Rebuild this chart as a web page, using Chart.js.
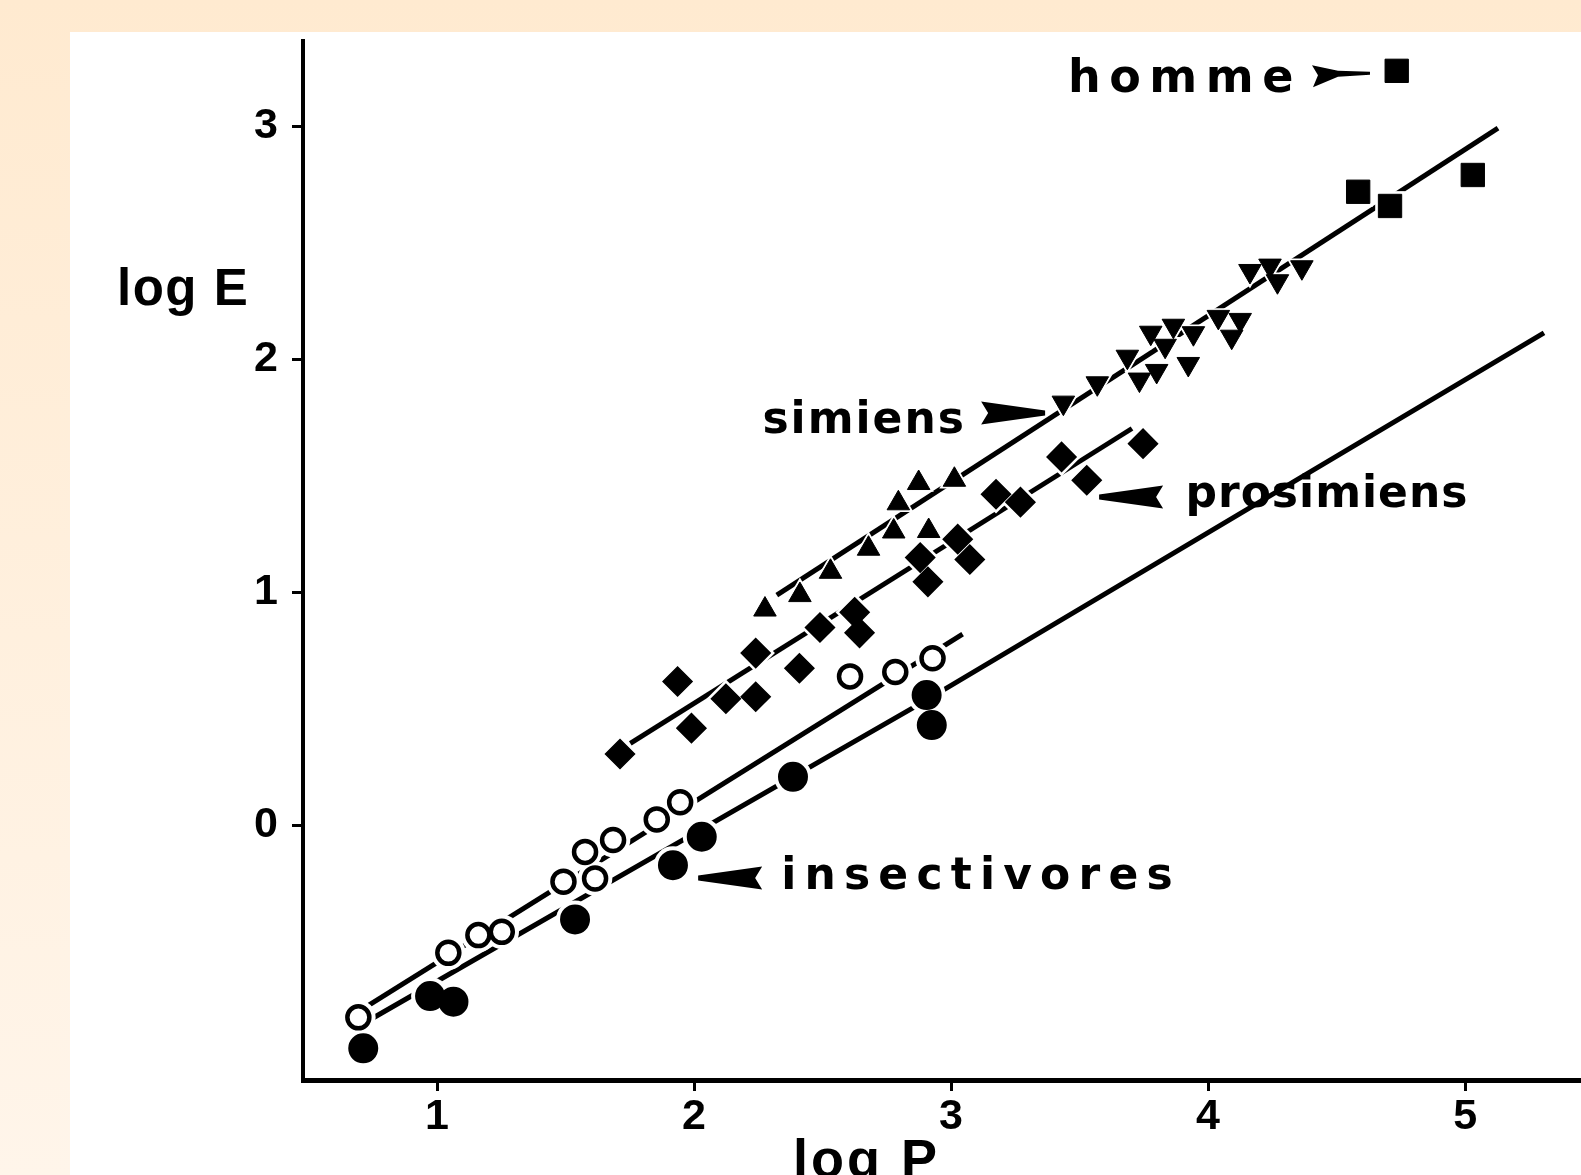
<!DOCTYPE html>
<html>
<head>
<meta charset="utf-8">
<script src="https://cdn.jsdelivr.net/npm/chart.js@4.4.1/dist/chart.umd.min.js"></script>
<style>
html,body{margin:0;padding:0;width:1581px;height:1175px;overflow:hidden;}
body{background:linear-gradient(to bottom,#ffead0,#fff5ea);position:relative;}
#panel{position:absolute;left:70px;top:32px;right:0;bottom:0;background:#ffffff;}
#c{position:absolute;left:0;top:0;}
</style>
</head>
<body>
<div id="panel"></div>
<canvas id="c" width="1581" height="1175"></canvas>
<script>
// ---- tick labels ----
const xTickValues = [1, 2, 3, 4, 5];
const yTickValues = [0, 1, 2, 3];

// ---- series values [log P, log E] ----
const insectivoresPleins = [[0.713,-0.958],[0.973,-0.734],[1.064,-0.758],[1.537,-0.405],[1.918,-0.172],[2.03,-0.05],[2.385,0.207],[2.905,0.558],[2.925,0.429]];
const insectivoresVides = [[0.694,-0.825],[1.044,-0.548],[1.161,-0.472],[1.252,-0.458],[1.492,-0.243],[1.576,-0.115],[1.615,-0.229],[1.685,-0.064],[1.855,0.024],[1.946,0.098],[2.607,0.638],[2.783,0.657],[2.928,0.716]];
const prosimiens = [[1.712,0.305],[1.936,0.616],[1.99,0.416],[2.124,0.542],[2.24,0.551],[2.24,0.738],[2.41,0.673],[2.49,0.848],[2.625,0.913],[2.644,0.825],[2.88,1.148],[2.91,1.044],[3.026,1.227],[3.073,1.14],[3.175,1.42],[3.27,1.386],[3.43,1.58],[3.528,1.48],[3.747,1.637]];
const simiensA = [[2.276,0.925],[2.412,0.987],[2.531,1.087],[2.679,1.186],[2.777,1.26],[2.913,1.262],[2.795,1.381],[2.874,1.468],[3.013,1.482]];
const simiensB = [[3.437,1.813],[3.569,1.896],[3.686,2.010],[3.733,1.912],[3.80,1.949],[3.777,2.113],[3.865,2.143],[3.833,2.057],[3.943,2.111],[3.923,1.979],[4.040,2.181],[4.125,2.168],[4.092,2.096],[4.163,2.378],[4.241,2.401],[4.270,2.334],[4.365,2.394]];
const hominoides = [[4.584,2.718],[4.708,2.657],[5.03,2.79],[4.734,3.237]];

// ---- fitted lines (end points) ----
const droiteInsectivoresVides = [[0.71,-0.79],[3.045,0.82]];
const droiteInsectivoresPleins = [[0.751,-0.828],[2.899,0.533],[5.307,2.112]];
const droiteProsimiens = [[1.752,0.351],[3.704,1.702]];
const droiteSimiens = [[2.322,0.987],[5.128,2.991]];

// ---- texts ----
const labelTexts = ['homme', 'simiens', 'prosimiens', 'insectivores'];
const axisTitleY = 'log E';
const axisTitleX = 'log P';

// ---- placement / style of annotations (kept apart from data) ----
const LABEL_FONT = '"DejaVu Sans", Verdana, sans-serif';
const TITLE_FONT = '"Liberation Sans", Arial, sans-serif';
const labelPlacement = [
  {x:3.455, y:3.147, size:46, spacing:8.5},
  {x:2.266, y:1.684, size:44, spacing:2},
  {x:3.912, y:1.366, size:44, spacing:1},
  {x:2.339, y:-0.276, size:44, spacing:8.2}
];
const titlePlacement = {
  y:{x:-0.245, y:2.232, size:51, spacing:1.5},
  x:{x:2.385, y:-1.511, size:54, spacing:3}
};
const wedge = [[0,-2.5],[-64,-11.5],[-57,0],[-64,11.5],[0,2.5]];
const hommeArrow = [[0,-1.5],[-32,-2.5],[-58,-8],[-52,2],[-57,14],[-32,3.5],[0,1.5]];
const arrowPlacement = [
  {x:4.630, y:3.227, dir:1, shape:hommeArrow},
  {x:3.366, y:1.768, dir:1, shape:wedge},
  {x:3.576, y:1.408, dir:-1, shape:wedge},
  {x:2.016, y:-0.227, dir:-1, shape:wedge}
];

const pts = a => a.map(([x,y]) => ({x, y}));

function markers(data, style, r, fill, bw, rot) {
  return [
    {type:'scatter', data:pts(data), pointStyle:style, pointRadius:r, pointHoverRadius:r,
     pointRotation:rot||0, backgroundColor:fill, borderColor:'#000', borderWidth:bw, order:1},
    {type:'scatter', data:pts(data), pointStyle:style, pointRadius:r+bw/2+4, pointHoverRadius:r+bw/2+4,
     pointRotation:rot||0, backgroundColor:'#fff', borderColor:'#fff', borderWidth:0, order:2}
  ];
}
function line(data) {
  return {type:'line', data:pts(data), showLine:true, pointRadius:0, pointHoverRadius:0,
          borderColor:'#000', borderWidth:5, fill:false, tension:0, order:3};
}

const datasets = [
  ...markers(insectivoresPleins, 'circle', 14, '#000', 2),
  ...markers(insectivoresVides, 'circle', 11, '#fff', 4.5),
  ...markers(prosimiens, 'rectRot', 14.5, '#000', 1.5),
  ...markers(simiensA, 'triangle', 13, '#000', 1),
  ...markers(simiensB, 'triangle', 13, '#000', 1, 180),
  ...markers(hominoides, 'rect', 16.5, '#000', 1),
  line(droiteInsectivoresVides),
  line(droiteInsectivoresPleins),
  line(droiteProsimiens),
  line(droiteSimiens)
];

const annotations = {
  id:'annotations',
  afterDraw(chart) {
    const {ctx} = chart;
    const sx = chart.scales.x, sy = chart.scales.y;
    ctx.save();
    ctx.fillStyle = '#000';
    ctx.textAlign = 'left';
    ctx.textBaseline = 'alphabetic';
    const drawText = (t, p, fam) => {
      ctx.font = 'bold ' + p.size + 'px ' + fam;
      ctx.letterSpacing = p.spacing + 'px';
      ctx.fillText(t, sx.getPixelForValue(p.x), sy.getPixelForValue(p.y));
    };
    labelTexts.forEach((t, i) => drawText(t, labelPlacement[i], LABEL_FONT));
    drawText(axisTitleY, titlePlacement.y, TITLE_FONT);
    drawText(axisTitleX, titlePlacement.x, TITLE_FONT);
    ctx.letterSpacing = '0px';
    arrowPlacement.forEach(a => {
      const px = sx.getPixelForValue(a.x), py = sy.getPixelForValue(a.y);
      ctx.beginPath();
      a.shape.forEach(([dx, dy], k) => {
        const X = px + dx * a.dir, Y = py + dy;
        if (k) ctx.lineTo(X, Y); else ctx.moveTo(X, Y);
      });
      ctx.closePath();
      ctx.fill();
    });
    ctx.restore();
  }
};

new Chart(document.getElementById('c'), {
  type:'scatter',
  data:{datasets},
  options:{
    responsive:false,
    devicePixelRatio:1,
    animation:false,
    layout:{autoPadding:false, padding:{top:41, right:0, left:0, bottom:0}},
    plugins:{legend:{display:false}, tooltip:{enabled:false}, title:{display:false}},
    scales:{
      x:{
        type:'linear', min:0.4786, max:5.451,
        afterBuildTicks:s => { s.ticks = xTickValues.map(v => ({value:v})); },
        afterFit:s => { s.height = 95; },
        grid:{drawOnChartArea:false, drawTicks:true, tickLength:11, tickWidth:3, color:'#000'},
        border:{display:true, color:'#000', width:5},
        ticks:{color:'#000', padding:0, font:{family:TITLE_FONT, size:43, weight:'bold'}, maxRotation:0, autoSkip:false}
      },
      y:{
        type:'linear', min:-1.094, max:3.365,
        afterBuildTicks:s => { s.ticks = yTickValues.map(v => ({value:v})); },
        afterFit:s => { s.width = 303; },
        grid:{drawOnChartArea:false, drawTicks:true, tickLength:11, tickWidth:3, color:'#000'},
        border:{display:true, color:'#000', width:4},
        ticks:{color:'#000', padding:14, font:{family:TITLE_FONT, size:43, weight:'bold'}, autoSkip:false}
      }
    }
  },
  plugins:[annotations]
});
</script>
</body>
</html>
